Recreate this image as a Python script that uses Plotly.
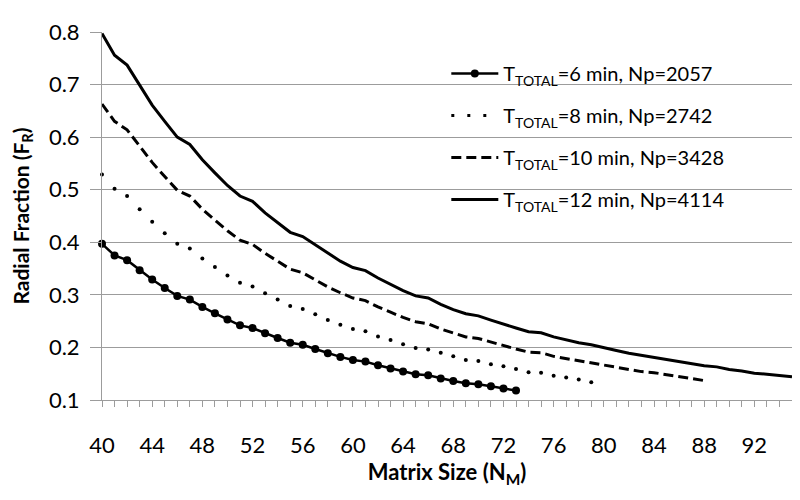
import plotly.graph_objects as go

# ---- data ----
n6 = list(range(40, 74))
fr6 = [0.397, 0.375, 0.366, 0.347, 0.329, 0.313, 0.298, 0.291, 0.277, 0.265,
       0.253, 0.242, 0.237, 0.227, 0.218, 0.209, 0.205, 0.197, 0.189, 0.182,
       0.176, 0.173, 0.166, 0.160, 0.154, 0.149, 0.147, 0.141, 0.136, 0.132,
       0.130, 0.126, 0.122, 0.118]

n8 = list(range(40, 80))
fr8 = [0.529, 0.502, 0.488, 0.463, 0.439, 0.417, 0.397, 0.388, 0.369, 0.353,
       0.337, 0.323, 0.316, 0.303, 0.291, 0.279, 0.273, 0.263, 0.252, 0.243,
       0.235, 0.231, 0.221, 0.214, 0.206, 0.199, 0.196, 0.190, 0.183, 0.176,
       0.174, 0.168, 0.164, 0.159, 0.153, 0.152, 0.146, 0.143, 0.139, 0.134]

n10 = list(range(40, 89))
fr10 = [0.663, 0.630, 0.614, 0.582, 0.552, 0.525, 0.499, 0.488, 0.463, 0.442,
        0.422, 0.404, 0.396, 0.379, 0.364, 0.349, 0.342, 0.329, 0.315, 0.304,
        0.294, 0.289, 0.277, 0.267, 0.257, 0.249, 0.245, 0.235, 0.227, 0.220,
        0.217, 0.210, 0.204, 0.197, 0.191, 0.190, 0.183, 0.179, 0.174, 0.171,
        0.166, 0.162, 0.158, 0.154, 0.152, 0.148, 0.144, 0.141, 0.137]

n12 = list(range(40, 96))
fr12 = [0.797, 0.756, 0.737, 0.698, 0.661, 0.630, 0.600, 0.586, 0.557, 0.532,
        0.508, 0.488, 0.478, 0.456, 0.437, 0.419, 0.411, 0.395, 0.379, 0.364,
        0.352, 0.346, 0.332, 0.320, 0.308, 0.298, 0.294, 0.282, 0.272, 0.264,
        0.260, 0.252, 0.244, 0.237, 0.230, 0.228, 0.220, 0.214, 0.209, 0.205,
        0.199, 0.194, 0.189, 0.185, 0.182, 0.177, 0.173, 0.169, 0.165, 0.163,
        0.158, 0.155, 0.151, 0.149, 0.147, 0.144]

names = ["T<sub>TOTAL</sub>=6 min, Np=2057",
         "T<sub>TOTAL</sub>=8 min, Np=2742",
         "T<sub>TOTAL</sub>=10 min, Np=3428",
         "T<sub>TOTAL</sub>=12 min, Np=4114"]

x_ticks = list(range(40, 93, 4))
y_ticks = [0.1, 0.2, 0.3, 0.4, 0.5, 0.6, 0.7, 0.8]

FONT = "Lato"
GRID = "#9c9c9c"

fig = go.Figure()

fig.add_trace(go.Scatter(
    x=n6, y=fr6, name=names[0], legendgroup="g6", mode="lines+markers",
    line=dict(color="black", width=2.5),
    marker=dict(symbol="circle", size=8, color="black"), cliponaxis=False))

fig.add_trace(go.Scatter(
    x=n8, y=fr8, name=names[1], legendgroup="g8", mode="markers",
    marker=dict(symbol="circle", size=4, color="black"),
    showlegend=False, cliponaxis=False))
fig.add_trace(go.Scatter(
    x=[None], y=[None], name=names[1], legendgroup="g8", mode="lines",
    line=dict(color="black", width=3, dash="3px,13px")))

fig.add_trace(go.Scatter(
    x=n10, y=fr10, name=names[2], legendgroup="g10", mode="lines",
    line=dict(color="black", width=3, dash="10px,5px")))

fig.add_trace(go.Scatter(
    x=n12, y=fr12, name=names[3], legendgroup="g12", mode="lines",
    line=dict(color="black", width=3)))

# page body has an 8px margin: layout is sized so the page is exactly 800x500
fig.update_layout(
    width=784, height=484,
    margin=dict(l=94, r=0, t=24, b=92),
    paper_bgcolor="white", plot_bgcolor="white",
    font=dict(family=FONT, color="black"),
    showlegend=True,
    legend=dict(x=0.499, y=0.94, xanchor="left", yanchor="top",
                bgcolor="rgba(0,0,0,0)", font=dict(size=20, family=FONT, color="black"),
                tracegroupgap=13, traceorder="grouped", itemwidth=47),
    shapes=[dict(type="rect", xref="paper", yref="paper",
                 x0=0.4435, x1=0.955, y0=0.4755, y1=0.9565,
                 fillcolor="white", line=dict(width=0), layer="between")],
)

fig.update_xaxes(
    range=[40, 95], tickmode="array", tickvals=x_ticks,
    ticktext=[str(v) for v in x_ticks],
    ticks="outside", ticklen=6, tickcolor=GRID, tickwidth=1,
    minor=dict(dtick=1, tick0=40, ticks="outside", ticklen=6, tickcolor=GRID, showgrid=False),
    showgrid=False, zeroline=False, showline=True, linecolor=GRID, linewidth=1,
    tickfont=dict(size=22, family=FONT, color="black"),
    ticklabelstandoff=20,
    title=dict(text="<b>Matrix Size (N<sub>M</sub>)</b>", font=dict(size=22, family=FONT, color="black"),
               standoff=5),
)

fig.update_yaxes(
    range=[0.1, 0.8], tickmode="array", tickvals=y_ticks,
    ticktext=["%.1f" % v for v in y_ticks],
    ticks="outside", ticklen=11, tickcolor=GRID, tickwidth=1,
    showgrid=True, gridcolor=GRID, gridwidth=1,
    zeroline=False, showline=True, linecolor=GRID, linewidth=1,
    tickfont=dict(size=22, family=FONT, color="black"),
    ticklabelstandoff=6,
    title=dict(text="<b>Radial Fraction (F<sub>R</sub>)</b>", font=dict(size=21, family=FONT, color="black"),
               standoff=17),
)

fig.write_html("out.html")
